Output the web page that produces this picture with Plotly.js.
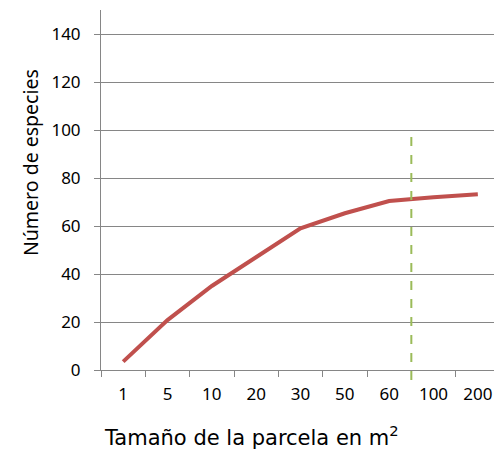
<!DOCTYPE html>
<html>
<head>
<meta charset="utf-8">
<script src="https://cdn.plot.ly/plotly-3.0.1.min.js"></script>
<style>html,body{margin:0;padding:0;overflow:hidden;background:#fff;}#chart{width:500px;height:450px;}</style>
</head>
<body>
<div id="chart"></div>
<script>
const categories = ["1", "5", "10", "20", "30", "50", "60", "100", "200"];
const species = [3.5, 20.8, 35, 47, 59, 65.3, 70.4, 72, 73.2];
const yTicks = [0, 20, 40, 60, 80, 100, 120, 140];
const markerCategoryPos = 6.5;
const markerTop = 98;

const tickFont = {family: "'Noto Sans', 'Open Sans', sans-serif", size: 17, color: "#000"};

const data = [{
  type: "scatter",
  mode: "lines",
  x: categories,
  y: species,
  line: {color: "#C0504D", width: 4},
  hoverinfo: "skip"
}];

const layout = {
  width: 500,
  height: 450,
  margin: {l: 101, r: 0, t: 10, b: 80},
  paper_bgcolor: "#fff",
  plot_bgcolor: "#fff",
  showlegend: false,
  xaxis: {
    type: "category",
    tickson: "boundaries",
    ticks: "outside",
    ticklen: 6,
    tickcolor: "#868686",
    showline: true,
    linecolor: "#868686",
    linewidth: 1,
    showgrid: false,
    zeroline: false,
    tickfont: tickFont,
    ticklabelstandoff: 9,
    range: [-0.5, 8.5]
  },
  yaxis: {
    range: [0, 150],
    tickvals: yTicks,
    ticktext: yTicks.map(String),
    ticks: "outside",
    ticklen: 6,
    tickcolor: "#868686",
    showline: true,
    linecolor: "#868686",
    linewidth: 1,
    showgrid: true,
    gridcolor: "#868686",
    gridwidth: 1,
    zeroline: false,
    tickfont: tickFont,
    ticklabelstandoff: 10
  },
  shapes: [{
    type: "line",
    xref: "x",
    yref: "paper",
    x0: markerCategoryPos,
    x1: markerCategoryPos,
    y0: -0.028,
    y1: markerTop / 150,
    line: {color: "#9BBB59", width: 2, dash: "dash"}
  }],
  annotations: [
    {
      text: "Número de especies",
      xref: "paper", yref: "paper",
      x: (30 - 101) / 399, y: (370 - 163) / 360,
      xanchor: "center", yanchor: "middle",
      textangle: -90,
      showarrow: false,
      font: {family: "'Noto Sans', 'Open Sans', sans-serif", size: 19.5, color: "#000"}
    },
    {
      text: "Tamaño de la parcela en m<sup>2</sup>",
      xref: "paper", yref: "paper",
      x: (251 - 101) / 399, y: -(421 - 370) / 360,
      xanchor: "center", yanchor: "top",
      showarrow: false,
      borderpad: 0,
      font: {family: "'DejaVu Sans', sans-serif", size: 21, color: "#000"}
    }
  ]
};

Plotly.newPlot("chart", data, layout, {displayModeBar: false, staticPlot: true});
</script>
</body>
</html>
